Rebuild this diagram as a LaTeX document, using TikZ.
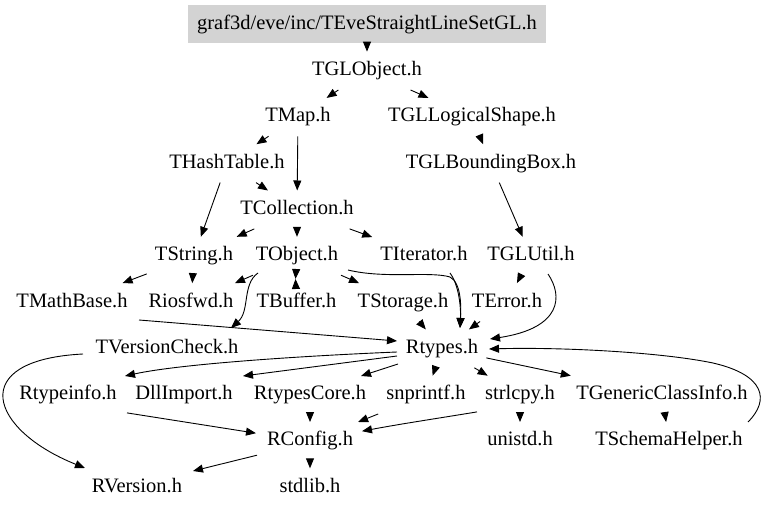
\documentclass[tikz,border=0pt]{standalone}
\usepackage{fontspec}
\setmainfont{Liberation Serif}
\usetikzlibrary{arrows.meta,calc}
\definecolor{rootgray}{RGB}{211,211,211}
\begin{document}
\begin{tikzpicture}[x=1pt,y=-1pt,
  every node/.style={font=\fontsize{20.5}{24}\selectfont},
  hnode/.style={inner xsep=8pt, inner ysep=0pt, minimum height=38pt, text height=14pt, text depth=4.5pt},
  rootnode/.style={hnode, fill=rootgray, inner xsep=9.5pt},
  conn/.style={draw=black, line width=0.9pt, -{Triangle[length=10pt,width=8pt]}}]
\useasboundingbox (0,0) rectangle (768,510);
% nodes
\node[rootnode] (root) at (367,24.5) {graf3d/eve/inc/TEveStraightLineSetGL.h};
\node[hnode] (TGLObject) at (367,70.8) {TGLObject.h};
\node[hnode] (TMap) at (298,117.1) {TMap.h};
\node[hnode] (TGLLogicalShape) at (472,117.1) {TGLLogicalShape.h};
\node[hnode] (THashTable) at (227,163.4) {THashTable.h};
\node[hnode] (TGLBoundingBox) at (491,163.4) {TGLBoundingBox.h};
\node[hnode] (TCollection) at (297,209.7) {TCollection.h};
\node[hnode] (TString) at (194,256) {TString.h};
\node[hnode] (TObject) at (297,256) {TObject.h};
\node[hnode] (TIterator) at (424,256) {TIterator.h};
\node[hnode] (TGLUtil) at (531,256) {TGLUtil.h};
\node[hnode] (TMathBase) at (72,302.3) {TMathBase.h};
\node[hnode] (Riosfwd) at (191,302.3) {Riosfwd.h};
\node[hnode] (TBuffer) at (296.5,302.3) {TBuffer.h};
\node[hnode] (TStorage) at (403,302.3) {TStorage.h};
\node[hnode] (TError) at (507,302.3) {TError.h};
\node[hnode] (TVersionCheck) at (167,348.6) {TVersionCheck.h};
\node[hnode] (Rtypes) at (442,348.6) {Rtypes.h};
\node[hnode] (Rtypeinfo) at (68,394.9) {Rtypeinfo.h};
\node[hnode] (DllImport) at (184,394.9) {DllImport.h};
\node[hnode] (RtypesCore) at (310,394.9) {RtypesCore.h};
\node[hnode] (snprintf) at (426,394.9) {snprintf.h};
\node[hnode] (strlcpy) at (520,394.9) {strlcpy.h};
\node[hnode] (TGenericClassInfo) at (662,394.9) {TGenericClassInfo.h};
\node[hnode] (RConfig) at (310,441.2) {RConfig.h};
\node[hnode] (unistd) at (520,441.2) {unistd.h};
\node[hnode] (TSchemaHelper) at (669,441.2) {TSchemaHelper.h};
\node[hnode] (RVersion) at (137,487.5) {RVersion.h};
\node[hnode] (stdlib) at (310,487.5) {stdlib.h};
\coordinate (bt) at (295.5,279);
% straight edges
\draw[conn] (root) -- (TGLObject);
\draw[conn] (TGLObject) -- (TMap);
\draw[conn] (TGLObject) -- (TGLLogicalShape);
\draw[conn] (TMap) -- (THashTable);
\draw[conn] (TMap) -- (TCollection);
\draw[conn] (THashTable) -- (TCollection);
\draw[conn] (THashTable) -- (TString);
\draw[conn] (TGLLogicalShape) -- (TGLBoundingBox);
\draw[conn] (TGLBoundingBox) -- (TGLUtil);
\draw[conn] (TCollection) -- (TString);
\draw[conn] (TCollection) -- (TObject);
\draw[conn] (TCollection) -- (TIterator);
\draw[conn] (TString) -- (TMathBase);
\draw[conn] (TString) -- (Riosfwd);
\draw[conn] (TObject) -- (Riosfwd);
\draw[conn] (TObject) -- (TStorage);
\draw[conn] (TObject) -- (bt);
\draw[conn] (TBuffer) -- (bt);
\draw[conn] (TStorage) -- (Rtypes);
\draw[conn] (TError) -- (Rtypes);
\draw[conn] (TGLUtil) -- (TError);
\draw[conn] (Rtypes) -- (snprintf);
\draw[conn] (Rtypes) -- (strlcpy);
\draw[conn] (Rtypes) -- (TGenericClassInfo);
\draw[conn] (TGenericClassInfo) -- (TSchemaHelper);
\draw[conn] (RtypesCore) -- (RConfig);
\draw[conn] (snprintf) -- (RConfig);
\draw[conn] (RConfig) -- (stdlib);
\draw[conn] (strlcpy) -- (unistd);
% shaped edges
\draw[conn] ($(TObject)+(-39,17)$) .. controls (242,284) and (250,311) .. ($(TVersionCheck)+(64,-20.6)$);
\draw[conn] ($(TObject)+(51,14)$) .. controls (385,279) and (430,271) .. (450,277) .. controls (462,283) and (461,310) .. ($(Rtypes)+(18,-20.6)$);
\draw[conn] ($(TIterator)+(26,17)$) .. controls (459,285) and (461,308) .. ($(Rtypes)+(18,-20.6)$);
\draw[conn] ($(TGLUtil)+(17,18)$) .. controls (563,296) and (562,328) .. ($(Rtypes)+(48,-9.6)$);
\draw[conn] ($(TMathBase)+(67,17.7)$) -- ($(Rtypes)+(-45,-7.6)$);
\draw[conn] ($(Rtypes)+(-45,3.4)$) .. controls (300,356) and (180,364) .. ($(Rtypeinfo)+(57,-18.9)$);
\draw[conn] ($(Rtypes)+(-45,7.4)$) -- ($(DllImport)+(59,-18.9)$);
\draw[conn] ($(Rtypes)+(-44,15.4)$) -- ($(RtypesCore)+(51,-18.9)$);
\draw[conn] ($(TSchemaHelper)+(79,-19.2)$) .. controls (770,400) and (765,375) .. (713,363) .. controls (660,352) and (560,347) .. ($(Rtypes)+(47,0.4)$);
\draw[conn] ($(TVersionCheck)+(-84,5.4)$) .. controls (-35,360) and (-10,430) .. ($(RVersion)+(-52,-19.5)$);
\draw[conn] ($(Rtypeinfo)+(59,18)$) -- ($(RConfig)+(-54,-8)$);
\draw[conn] ($(strlcpy)+(-43,17)$) .. controls (440,418) and (400,424) .. ($(RConfig)+(52,-10)$);
\draw[conn] ($(RConfig)+(-53,14)$) -- ($(RVersion)+(56,-16.5)$);
\end{tikzpicture}
\end{document}
